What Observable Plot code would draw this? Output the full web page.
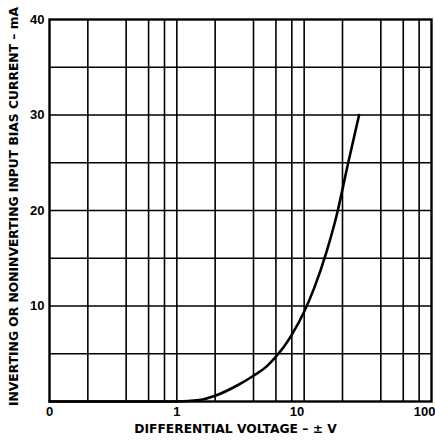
<!DOCTYPE html>
<html>
<head>
<meta charset="utf-8">
<script src="https://cdn.jsdelivr.net/npm/d3@7"></script>
<script src="https://cdn.jsdelivr.net/npm/@observablehq/plot@0.6"></script>
<style>
  html, body { margin: 0; padding: 0; background: #fff; }
  svg { font-family: "Liberation Sans", Arial, sans-serif; }
</style>
</head>
<body>
<div id="chart"></div>
<script>
// Data
const voltage = [0.1, 0.5, 1.0, 1.5, 2, 3, 4, 5, 6, 7, 8, 10, 12, 15, 18, 22, 27];
const current = [0, 0, 0, 0.15, 0.6, 1.7, 2.7, 3.6, 4.7, 5.8, 7.0, 9.4, 11.9, 15.7, 19.5, 24.8, 30.0];

const xGrid = [0.2, 0.4, 0.6, 0.8, 1, 2, 4, 6, 8, 10, 20, 40, 60, 80];
const yGrid = [5, 10, 15, 20, 25, 30, 35];
const xTicks = [0.1, 1, 10, 100];
const xTickLabels = ["0", "1", "10", "100"];
const yTicks = [10, 20, 30, 40];
const yTickLabels = ["10", "20", "30", "40"];
const xTitle = "DIFFERENTIAL VOLTAGE – ± V";
const yTitle = "INVERTING OR NONINVERTING INPUT BIAS CURRENT – mA";

const curve = voltage.map((v, i) => ({v, i: current[i]}));
const xt = xTicks.map((t, i) => ({t, label: xTickLabels[i]}));
const yt = yTicks.map((t, i) => ({t, label: yTickLabels[i]}));

const titleFont = "'DejaVu Sans', Verdana, sans-serif";

const chart = Plot.plot({
  width: 435,
  height: 440,
  marginLeft: 49,
  marginRight: 4,
  marginTop: 19,
  marginBottom: 39,
  x: {type: "log", domain: [0.1, 100], axis: null},
  y: {domain: [0, 40], axis: null},
  style: {fontFamily: "'Liberation Sans', Arial, sans-serif", background: "#fff", color: "#000"},
  marks: [
    Plot.ruleX(xGrid, {stroke: "#000", strokeWidth: 1.6}),
    Plot.ruleY(yGrid, {stroke: "#000", strokeWidth: 1.6}),
    Plot.frame({stroke: "#000", strokeWidth: 2.4}),
    Plot.line(curve, {x: "v", y: "i", stroke: "#000", strokeWidth: 2.6, curve: "monotone-x"}),
    Plot.text(xt.slice(0, 2), {x: "t", text: "label", frameAnchor: "bottom", dy: 14, textAnchor: "middle", fontSize: 13, fontWeight: "bold", fill: "#000"}),
    Plot.text(xt.slice(2, 3), {x: "t", text: "label", frameAnchor: "bottom", dy: 14, textAnchor: "end", fontSize: 13, fontWeight: "bold", fill: "#000"}),
    Plot.text(xt.slice(3), {x: "t", text: "label", frameAnchor: "bottom", dy: 14, textAnchor: "end", dx: 4, fontSize: 13, fontWeight: "bold", fill: "#000"}),
    Plot.text(yt, {y: "t", text: "label", frameAnchor: "left", dx: -5, textAnchor: "end", fontSize: 13, fontWeight: "bold", fill: "#000"}),
    Plot.text([xTitle], {frameAnchor: "bottom", textAnchor: "middle", dy: 31, dx: -5, fontSize: 12.3, fontWeight: "bold", fontFamily: titleFont, fill: "#000"}),
    Plot.text([yTitle], {frameAnchor: "left", textAnchor: "middle", dx: -35, dy: -4, rotate: -90, fontSize: 12.3, fontWeight: "bold", fontFamily: titleFont, fill: "#000"})
  ]
});
document.getElementById("chart").appendChild(chart);
</script>
</body>
</html>
